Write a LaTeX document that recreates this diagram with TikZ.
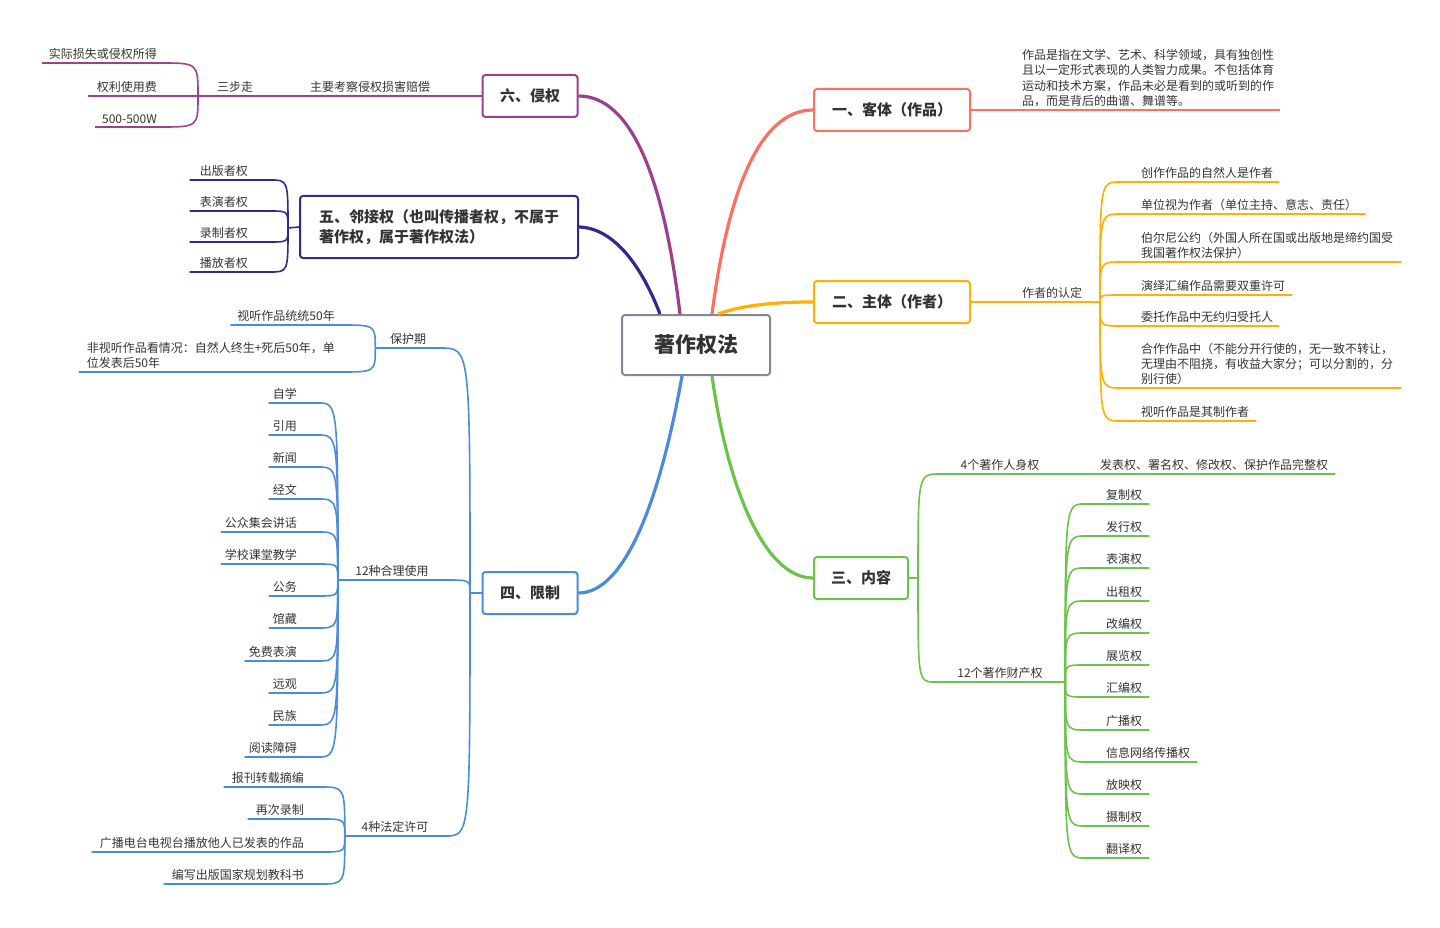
\documentclass[tikz,border=0pt]{standalone}
\usepackage{fontspec}
\setmainfont{Noto Sans CJK SC}
\definecolor{txt}{HTML}{333333}
\definecolor{cKe}{HTML}{FF6F5E}
\definecolor{cZhu}{HTML}{FFB000}
\definecolor{cNei}{HTML}{6CC24A}
\definecolor{cXian}{HTML}{4A8CDB}
\definecolor{cLin}{HTML}{2F2A8F}
\definecolor{cQin}{HTML}{9E3F8E}
\definecolor{cRoot}{HTML}{7F8896}

\begin{document}
\begin{tikzpicture}[x=1pt,y=-1pt,
  root/.style={draw=cRoot,line width=2pt,rounded corners=3pt,fill=white,text=txt,
    font=\fontsize{21}{24}\selectfont\bfseries,minimum width=148pt,minimum height=60pt},
  topic/.style={draw=#1,line width=2pt,rounded corners=3pt,fill=white,text=txt,
    font=\fontsize{15}{20}\selectfont\bfseries,minimum height=42pt,inner xsep=14pt,align=left},
  branch/.style={draw=#1,line width=3.2pt},
  twig/.style={draw=#1,line width=1.6pt},
  leaf/.style={text=txt,font=\fontsize{12}{15.3}\selectfont,inner xsep=0pt,inner ysep=3pt,align=left}]
\useasboundingbox (0,0) rectangle (1440,928);

% centre and main topics
\node[root] (root) at (696,345) {著作权法};
\node[topic=cKe,minimum width=156pt] (ke) at (892,110) {一、客体（作品）};
\node[topic=cZhu,minimum width=156pt] (zhu) at (892,302) {二、主体（作者）};
\node[topic=cNei,minimum width=94pt] (nei) at (861,578) {三、内容};
\node[topic=cXian,minimum width=95pt] (xian) at (530,593) {四、限制};
\node[topic=cLin,minimum width=278pt,minimum height=62pt] (lin) at (439,227) {五、邻接权（也叫传播者权，不属于\\著作权，属于著作权法）};
\node[topic=cQin,minimum width=95pt] (qin) at (530,96) {六、侵权};

\draw[branch=cKe] ([xshift=16]root.north) .. controls (728,190) and (760,110) .. (ke.west);
\draw[branch=cZhu] ([xshift=22]root.north) .. controls (740,306) and (770,302) .. (zhu.west);
\draw[branch=cNei] ([xshift=16]root.south) .. controls (728,490) and (765,578) .. (nei.west);
\draw[branch=cXian] ([xshift=-14]root.south) .. controls (660,500) and (625,593) .. (xian.east);
\draw[branch=cLin] ([xshift=-36]root.north) .. controls (640,262) and (612,228) .. (lin.east);
\draw[branch=cQin] ([xshift=-16]root.north) .. controls (664,180) and (632,96) .. (qin.east);

% 一
\node[leaf,anchor=south west] (ke1) at (1022,110) {作品是指在文学、艺术、科学领域，具有独创性\\且以一定形式表现的人类智力成果。不包括体育\\运动和技术方案，作品未必是看到的或听到的作\\品，而是背后的曲谱、舞谱等。};
\draw[twig=cKe] (ke.east) -- ([xshift=6]ke1.south east);

% 二
\coordinate (zhuhub) at (1100,302);
\node[leaf,anchor=south] (zhuA) at (1052,302) {作者的认定};
\draw[twig=cZhu] (zhu.east) -- (zhuhub);
\node[leaf,anchor=south west] (zhu1) at (1141,182) {创作作品的自然人是作者};
\node[leaf,anchor=south west] (zhu2) at (1141,214) {单位视为作者（单位主持、意志、责任）};
\node[leaf,anchor=south west] (zhu3) at (1141,262) {伯尔尼公约（外国人所在国或出版地是缔约国受\\我国著作权法保护）};
\node[leaf,anchor=south west] (zhu4) at (1141,295) {演绎汇编作品需要双重许可};
\node[leaf,anchor=south west] (zhu5) at (1141,326) {委托作品中无约归受托人};
\node[leaf,anchor=south west] (zhu6) at (1141,388) {合作作品中（不能分开行使的，无一致不转让，\\无理由不阻挠，有收益大家分；可以分割的，分\\别行使）};
\node[leaf,anchor=south west] (zhu7) at (1141,421) {视听作品是其制作者};
\draw[twig=cZhu] (zhuhub) .. controls (zhuhub |- zhu1.south) .. ([xshift=-21]zhu1.south west) -- ([xshift=6]zhu1.south east);
\draw[twig=cZhu] (zhuhub) .. controls (zhuhub |- zhu2.south) .. ([xshift=-21]zhu2.south west) -- ([xshift=8]zhu2.south east);
\draw[twig=cZhu] (zhuhub) .. controls (zhuhub |- zhu3.south) .. ([xshift=-21]zhu3.south west) -- ([xshift=8]zhu3.south east);
\draw[twig=cZhu] (zhuhub) .. controls (zhuhub |- zhu4.south) .. ([xshift=-21]zhu4.south west) -- ([xshift=7]zhu4.south east);
\draw[twig=cZhu] (zhuhub) .. controls (zhuhub |- zhu5.south) .. ([xshift=-21]zhu5.south west) -- ([xshift=6]zhu5.south east);
\draw[twig=cZhu] (zhuhub) .. controls (zhuhub |- zhu6.south) .. ([xshift=-21]zhu6.south west) -- ([xshift=8]zhu6.south east);
\draw[twig=cZhu] (zhuhub) .. controls (zhuhub |- zhu7.south) .. ([xshift=-21]zhu7.south west) -- ([xshift=7]zhu7.south east);

% 三
\coordinate (neihub) at (918,578);
\draw[twig=cNei] (nei.east) -- (neihub);
\node[leaf,anchor=south,minimum width=120pt] (renshen) at (1000,474) {4个著作人身权};
\node[leaf,anchor=south west] (renshen1) at (1100,474) {发表权、署名权、修改权、保护作品完整权};
\node[leaf,anchor=south,minimum width=130pt] (caichan) at (1000,682) {12个著作财产权};
\draw[twig=cNei] (neihub) .. controls (neihub |- renshen.south) .. (renshen.south west) -- (renshen.south east) -- ([xshift=7]renshen1.south east);
\draw[twig=cNei] (neihub) .. controls (neihub |- caichan.south) .. (caichan.south west) -- (caichan.south east);
\coordinate (caihub) at (caichan.south east);
\node[leaf,anchor=south west] (cc1) at (1106,504) {复制权};
\node[leaf,anchor=south west] (cc2) at (1106,536) {发行权};
\node[leaf,anchor=south west] (cc3) at (1106,568) {表演权};
\node[leaf,anchor=south west] (cc4) at (1106,601) {出租权};
\node[leaf,anchor=south west] (cc5) at (1106,633) {改编权};
\node[leaf,anchor=south west] (cc6) at (1106,665) {展览权};
\node[leaf,anchor=south west] (cc7) at (1106,697) {汇编权};
\node[leaf,anchor=south west] (cc8) at (1106,730) {广播权};
\node[leaf,anchor=south west] (cc9) at (1106,762) {信息网络传播权};
\node[leaf,anchor=south west] (cc10) at (1106,794) {放映权};
\node[leaf,anchor=south west] (cc11) at (1106,826) {摄制权};
\node[leaf,anchor=south west] (cc12) at (1106,858) {翻译权};
\foreach \i in {1,...,12}
  \draw[twig=cNei] (caihub) .. controls (caihub |- cc\i.south) .. ([xshift=-21]cc\i.south west) -- ([xshift=7]cc\i.south east);

% 四
\coordinate (xianhub) at (470,593);
\draw[twig=cXian] (xian.west) -- (xianhub);
\node[leaf,anchor=south,minimum width=65pt] (baohu) at (408,348) {保护期};
\node[leaf,anchor=south,minimum width=108pt] (heli) at (392,580) {12种合理使用};
\node[leaf,anchor=south,minimum width=100pt] (fading) at (395,836) {4种法定许可};
\draw[twig=cXian] (xianhub) .. controls (xianhub |- baohu.south) .. (baohu.south east) -- (baohu.south west);
\draw[twig=cXian] (xianhub) .. controls (xianhub |- heli.south) .. (heli.south east) -- (heli.south west);
\draw[twig=cXian] (xianhub) .. controls (xianhub |- fading.south) .. (fading.south east) -- (fading.south west);
\node[leaf,anchor=south east] (bh1) at (335,325) {视听作品统统50年};
\node[leaf,anchor=south east] (bh2) at (335,372) {非视听作品看情况：自然人终生+死后50年，单\\位发表后50年};
\draw[twig=cXian] (baohu.south west) .. controls (baohu.south west |- bh1.south) .. ([xshift=5]bh1.south east) -- ([xshift=-7]bh1.south west);
\draw[twig=cXian] (baohu.south west) .. controls (baohu.south west |- bh2.south) .. ([xshift=5]bh2.south east) -- ([xshift=-8]bh2.south west);
\node[leaf,anchor=south east] (hl1) at (297,403) {自学};
\node[leaf,anchor=south east] (hl2) at (297,435) {引用};
\node[leaf,anchor=south east] (hl3) at (297,467) {新闻};
\node[leaf,anchor=south east] (hl4) at (297,499) {经文};
\node[leaf,anchor=south east] (hl5) at (297,532) {公众集会讲话};
\node[leaf,anchor=south east] (hl6) at (297,564) {学校课堂教学};
\node[leaf,anchor=south east] (hl7) at (297,596) {公务};
\node[leaf,anchor=south east] (hl8) at (297,628) {馆藏};
\node[leaf,anchor=south east] (hl9) at (297,661) {免费表演};
\node[leaf,anchor=south east] (hl10) at (297,693) {远观};
\node[leaf,anchor=south east] (hl11) at (297,725) {民族};
\node[leaf,anchor=south east] (hl12) at (297,757) {阅读障碍};
\foreach \i in {1,...,12}
  \draw[twig=cXian] (heli.south west) .. controls (heli.south west |- hl\i.south) .. ([xshift=21]hl\i.south east) -- ([xshift=-4]hl\i.south west);
\node[leaf,anchor=south east] (fd1) at (304,787) {报刊转载摘编};
\node[leaf,anchor=south east] (fd2) at (304,819) {再次录制};
\node[leaf,anchor=south east] (fd3) at (304,852) {广播电台电视台播放他人已发表的作品};
\node[leaf,anchor=south east] (fd4) at (304,884) {编写出版国家规划教科书};
\foreach \i in {1,...,4}
  \draw[twig=cXian] (fading.south west) .. controls (fading.south west |- fd\i.south) .. ([xshift=17]fd\i.south east) -- ([xshift=-8]fd\i.south west);

% 五
\coordinate (linhub) at (288,228);
\draw[twig=cLin] (lin.west) -- (linhub);
\node[leaf,anchor=south east] (lq1) at (248,180) {出版者权};
\node[leaf,anchor=south east] (lq2) at (248,211) {表演者权};
\node[leaf,anchor=south east] (lq3) at (248,242) {录制者权};
\node[leaf,anchor=south east] (lq4) at (248,272) {播放者权};
\foreach \i in {1,...,4}
  \draw[twig=cLin] (linhub) .. controls (linhub |- lq\i.south) .. ([xshift=22]lq\i.south east) -- ([xshift=-10]lq\i.south west);

% 六
\coordinate (qinhub) at (198,96);
\node[leaf,anchor=south] (qinA) at (370,96) {主要考察侵权损害赔偿};
\node[leaf,anchor=south] (qinB) at (235,96) {三步走};
\draw[twig=cQin] (qin.west) -- (qinhub);
\node[leaf,anchor=south east] (qq1) at (157,63) {实际损失或侵权所得};
\node[leaf,anchor=south east] (qq2) at (157,96) {权利使用费};
\node[leaf,anchor=south east] (qq3) at (157,127) {500-500W};
\draw[twig=cQin] (qinhub) .. controls (qinhub |- qq1.south) .. ([xshift=3]qq1.south east) -- ([xshift=-115]qq1.south east);
\draw[twig=cQin] (qinhub) -- ([xshift=-69]qq2.south east);
\draw[twig=cQin] (qinhub) .. controls (qinhub |- qq3.south) .. ([xshift=3]qq3.south east) -- ([xshift=-62]qq3.south east);
\end{tikzpicture}
\end{document}
